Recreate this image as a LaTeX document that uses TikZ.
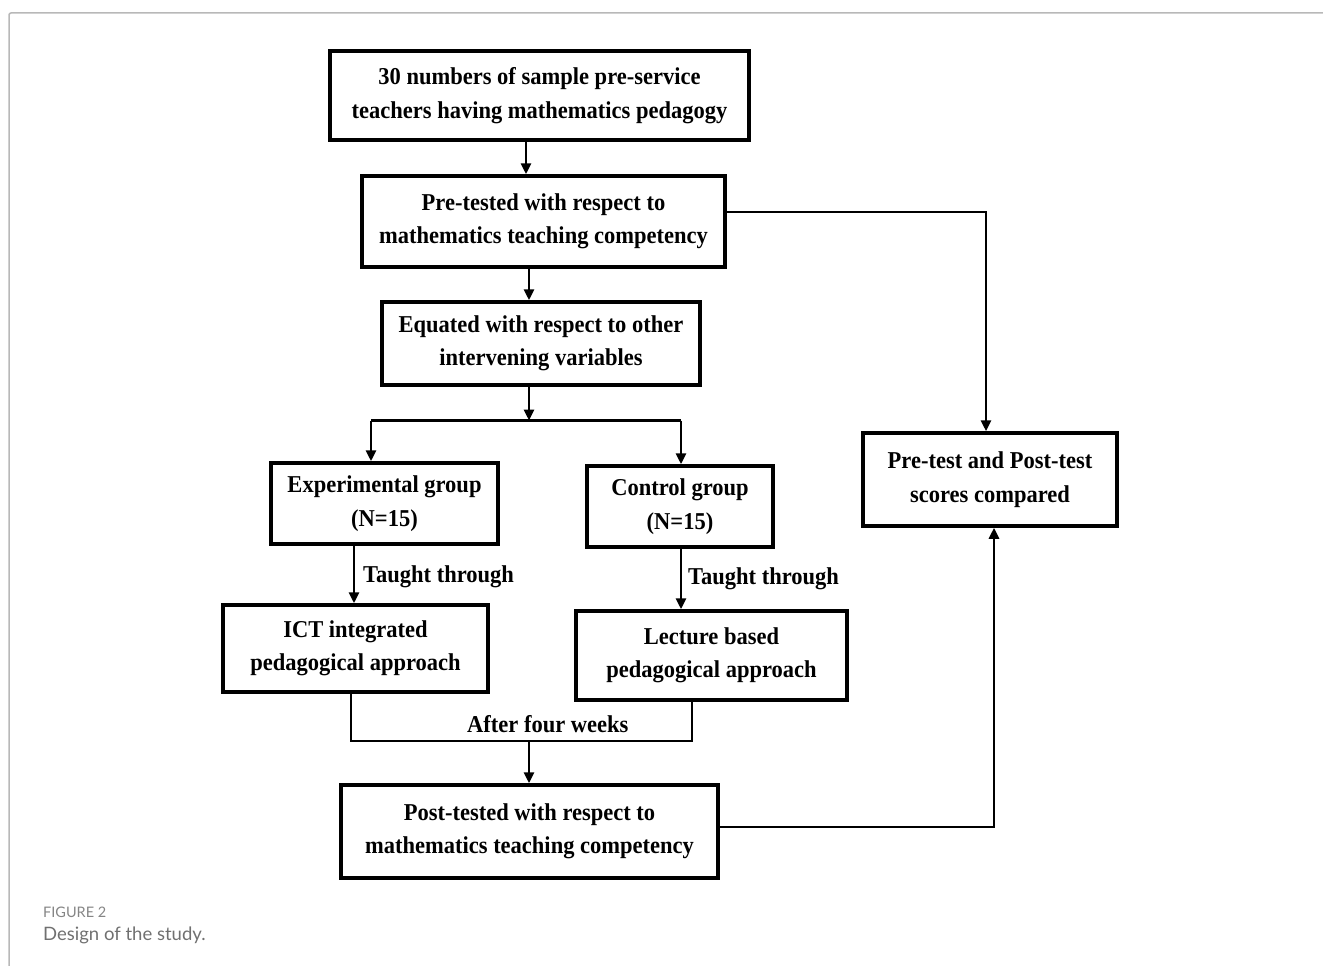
\documentclass[tikz,border=0pt]{standalone}
\usepackage{fontspec}
\setmainfont{Liberation Serif}
\newfontfamily\boxfont{Liberation Serif}[FakeStretch=0.93]
\newfontfamily\capfont{Lato}
\usetikzlibrary{arrows.meta}
\definecolor{framegray}{HTML}{B8B8B8}
\definecolor{capgray}{HTML}{707070}
\tikzset{
  box/.style={draw=black, line width=3.5pt, inner sep=0pt, align=center,
    font=\boxfont\fontsize{24.2}{33.5}\selectfont\bfseries},
  conn/.style={line width=2.8pt, line join=miter},
  arr/.style={conn, -{Triangle[length=11pt,width=10pt]}},
  lbl/.style={inner sep=0pt, anchor=base west, font=\boxfont\fontsize{24.2}{33.5}\selectfont\bfseries},
}
\begin{document}
\begin{tikzpicture}[x=1pt,y=-1pt]
\useasboundingbox (0,0) rectangle (1323,966);
% frame
\draw[framegray, line width=1.5pt, rounded corners=2pt] (9,970) -- (9,13) -- (1330,13);

% boxes
\node[box, minimum width=419pt, minimum height=89pt] (b1) at (539.5,95.5)
  {30 numbers of sample pre-service\\teachers having mathematics pedagogy};
\node[box, minimum width=363pt, minimum height=91pt] (b2) at (543.5,221.5)
  {Pre-tested with respect to\\mathematics teaching competency};
\node[box, minimum width=318pt, minimum height=83pt] (b3) at (541,343.5)
  {Equated with respect to other\\intervening variables};
\node[box, minimum width=227pt, minimum height=81pt] (exp) at (384.5,503.5)
  {Experimental group\\(N=15)};
\node[box, minimum width=186pt, minimum height=81pt] (ctl) at (680,506.5)
  {Control group\\(N=15)};
\node[box, minimum width=265pt, minimum height=87pt] (ict) at (355.5,648.5)
  {ICT integrated\\pedagogical approach};
\node[box, minimum width=271pt, minimum height=89pt] (lec) at (711.5,655.5)
  {Lecture based\\pedagogical approach};
\node[box, minimum width=377pt, minimum height=93pt] (post) at (529.5,831.5)
  {Post-tested with respect to\\mathematics teaching competency};
\node[box, minimum width=254pt, minimum height=93pt] (cmp) at (990,479.5)
  {Pre-test and Post-test\\scores compared};

% helper coordinates
\coordinate (xa) at (526,0);
\coordinate (xb) at (529,0);
\coordinate (split) at (529,420.5);
\coordinate (sl) at (371,420.5);
\coordinate (sr) at (681,420.5);
\coordinate (xe) at (354,0);
\coordinate (xc) at (681,0);
\coordinate (jl) at (351,741);
\coordinate (jr) at (692,741);
\coordinate (jm) at (529,741);
\coordinate (pr) at (986,212);
\coordinate (pb) at (994,827);

% connectors
\draw[arr] (xa |- b1.south) -- (xa |- b2.north);
\draw[arr] (xb |- b2.south) -- (xb |- b3.north);
\draw[arr] (xb |- b3.south) -- (split);
\draw[conn] (sl) -- (sr);
\draw[arr] (sl) -- (sl |- exp.north);
\draw[arr] (sr) -- (sr |- ctl.north);
\draw[arr] (xe |- exp.south) -- (xe |- ict.north);
\draw[arr] (xc |- ctl.south) -- (xc |- lec.north);
\draw[conn] (jl |- ict.south) -- (jl) -- (jr) -- (jr |- lec.south);
\draw[arr] (jm) -- (jm |- post.north);
\draw[arr] (b2.east |- pr) -- (pr) -- (pr |- cmp.north);
\draw[arr] (post.east |- pb) -- (pb) -- (pb |- cmp.south);

% labels
\node[lbl] (t1) at (363,582) {Taught through};
\node[lbl] (t2) at (688,584) {Taught through};
\node[lbl] (t3) at (467,732) {After four weeks};

% caption
\node[inner sep=0pt, anchor=base west, text=capgray!85, font=\capfont\fontsize{14.5}{17}\selectfont] (cap1) at (43,917) {FIGURE 2};
\node[inner sep=0pt, anchor=base west, text=capgray, font=\capfont\fontsize{18.5}{21}\selectfont] (cap2) at (43,940) {Design of the study.};
\end{tikzpicture}
\end{document}
